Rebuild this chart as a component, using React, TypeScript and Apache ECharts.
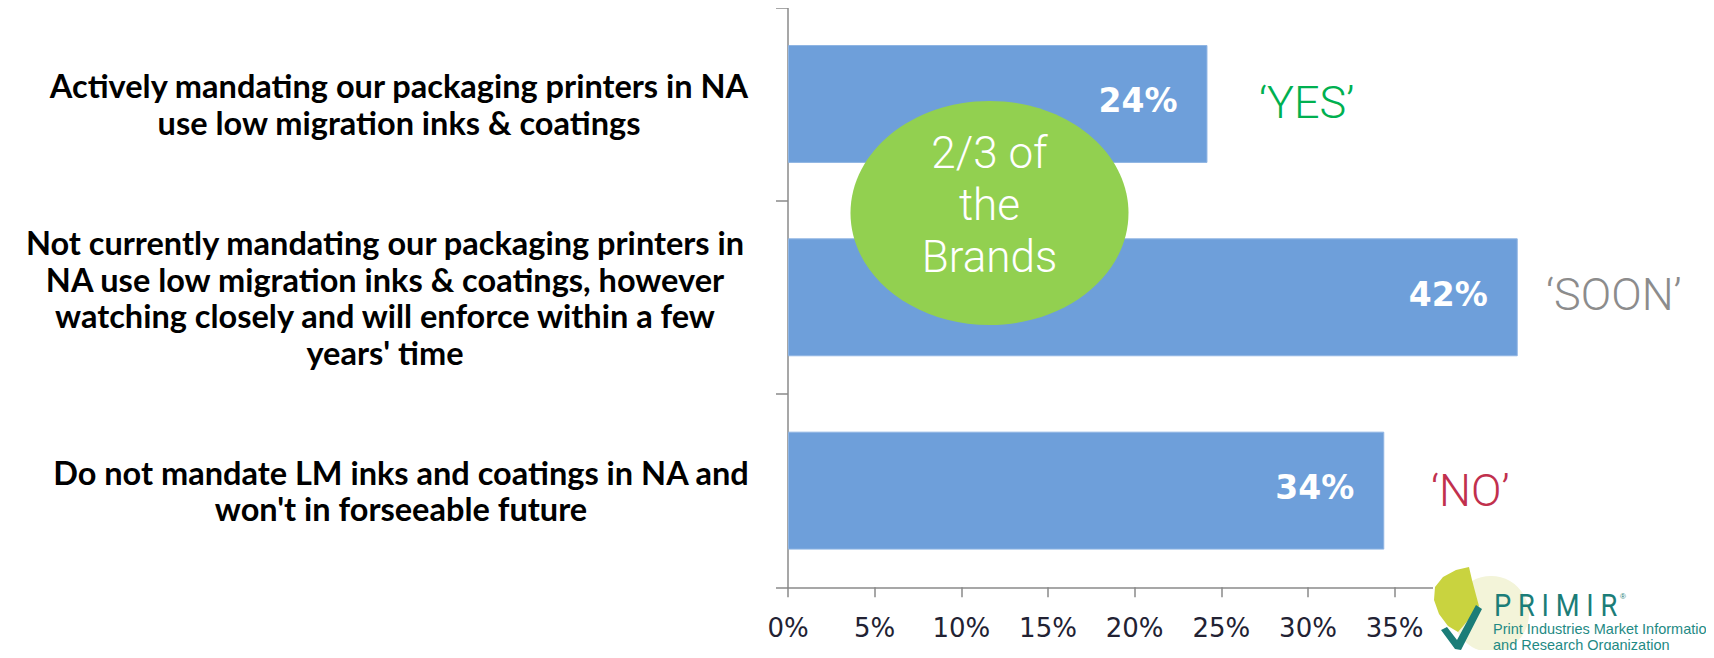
import React, { useEffect, useRef } from "react";
import * as echarts from "echarts";

const categories = [
  "Actively mandating our packaging printers in NA\nuse low migration inks & coatings",
  "Not currently mandating our packaging printers in\nNA use low migration inks & coatings, however\nwatching closely and will enforce within a few\nyears' time",
  "Do not mandate LM inks and coatings in NA and\nwon't in forseeable future",
];
const values = [24.2, 42.1, 34.4];
const xTicks = { min: 0, max: 45, interval: 5, lastVisibleLabel: 35 };
const annotations = ["\u2018YES\u2019", "\u2018SOON\u2019", "\u2018NO\u2019"];
const bubbleText = "2/3 of\nthe\nBrands";
const logoTitle = "P R I M I R";
const logoLines = ["Print Industries Market Information", "and Research Organization"];

const labelWidths = [714, 742, 710];

export default function App() {
  const ref = useRef<HTMLDivElement>(null);
  useEffect(() => {
    if (!ref.current) return;
    const chart = echarts.init(ref.current, null, { renderer: "svg" });
    const rich: any = {};
    labelWidths.forEach((w, i) => {
      rich["w" + i] = {
        width: w,
        align: "center",
        fontFamily: "Lato",
        fontWeight: 700,
        fontSize: 32.5,
        lineHeight: 36.5,
        color: "#000",
      };
    });
    const Z = 120;
    chart.setOption({
      animation: false,
      backgroundColor: "#fff",
      grid: { left: 788, right: 146, top: 7.3, bottom: 70.7, containLabel: false },
      xAxis: {
        type: "value",
        min: xTicks.min,
        max: xTicks.max,
        interval: xTicks.interval,
        splitLine: { show: false },
        axisLine: { show: true, lineStyle: { color: "#8a8a8a", width: 1.5 } },
        axisTick: { show: true, length: 10, lineStyle: { color: "#8a8a8a", width: 1.5 } },
        axisLabel: {
          formatter: (v: number) => (v <= xTicks.lastVisibleLabel ? `${v}%` : ""),
          fontFamily: "DejaVu Sans",
          fontSize: 26,
          lineHeight: 30,
          color: "#222233",
          margin: 26,
        },
      },
      yAxis: {
        type: "category",
        data: categories,
        inverse: true,
        axisLine: { show: true, lineStyle: { color: "#8a8a8a", width: 1.5 } },
        axisTick: { show: true, length: 12, lineStyle: { color: "#8a8a8a", width: 1.5 } },
        axisLabel: {
          margin: 32,
          align: "right",
          formatter: (v: string, i: number) =>
            v
              .split("\n")
              .map((l) => `{w${i}|${l}}`)
              .join("\n"),
          rich,
        },
      },
      series: [
        {
          type: "bar",
          data: values,
          barCategoryGap: "39%",
          itemStyle: { color: "#6e9fda", borderColor: "#8fb5e3", borderWidth: 1 },
          label: {
            show: true,
            position: "insideRight",
            distance: 30,
            offset: [0, -3],
            formatter: (p: any) => `${Math.round(p.value)}%`,
            color: "#fff",
            fontFamily: "DejaVu Sans",
            fontWeight: "bold",
            fontSize: 33,
          },
        },
      ],
      graphic: [
        {
          type: "ellipse",
          shape: { cx: 989.5, cy: 213, rx: 139, ry: 112 },
          style: { fill: "#92d050" },
          z: 100,
        },
        {
          type: "text",
          x: 989.5,
          y: 205,
          z: 101,
          style: {
            text: bubbleText,
            fill: "#fff",
            fontFamily: "Roboto",
            fontWeight: 300,
            fontSize: 44,
            lineHeight: 52,
            align: "center",
            verticalAlign: "middle",
          },
        },
        {
          type: "text",
          x: 1259,
          y: 102,
          z: 101,
          style: {
            text: annotations[0],
            fill: "#00b050",
            fontFamily: "Roboto",
            fontWeight: 300,
            fontSize: 45,
            align: "left",
            verticalAlign: "middle",
          },
        },
        {
          type: "text",
          x: 1546,
          y: 294,
          z: 101,
          style: {
            text: annotations[1],
            fill: "#8c8c8c",
            fontFamily: "Roboto",
            fontWeight: 300,
            fontSize: 45,
            align: "left",
            verticalAlign: "middle",
          },
        },
        {
          type: "text",
          x: 1431,
          y: 490,
          z: 101,
          style: {
            text: annotations[2],
            fill: "#c1304d",
            fontFamily: "Roboto",
            fontWeight: 300,
            fontSize: 45,
            align: "left",
            verticalAlign: "middle",
          },
        },
        { type: "rect", z: Z, shape: { x: 1433, y: 560, width: 281, height: 98 }, style: { fill: "#ffffff" } },
        { type: "circle", z: Z + 1, shape: { cx: 1491, cy: 614, r: 38 }, style: { fill: "#f3f4d9" } },
        {
          type: "polygon",
          z: Z + 2,
          shape: {
            points: [
              [1469, 567], [1472, 580], [1476, 595], [1479, 606], [1470, 618], [1458, 632],
              [1448, 626], [1439, 614], [1434, 600], [1435, 587], [1443, 577], [1456, 570],
            ],
          },
          style: { fill: "#c9d33f" },
        },
        {
          type: "polygon",
          z: Z + 3,
          shape: {
            points: [
              [1476, 605], [1482, 609], [1461, 650], [1455, 649], [1441, 630], [1447, 627], [1457, 640],
            ],
          },
          style: { fill: "#1b7d78" },
        },
        {
          type: "text",
          z: Z + 4,
          x: 1494,
          y: 605,
          scaleX: 0.88,
          style: {
            text: logoTitle,
            fill: "#1b7d78",
            fontFamily: "Roboto",
            fontSize: 31,
            align: "left",
            verticalAlign: "middle",
          },
        },
        {
          type: "text",
          z: Z + 4,
          x: 1620,
          y: 596,
          style: { text: "\u00ae", fill: "#1b7d78", fontFamily: "Liberation Sans", fontSize: 8, align: "left", verticalAlign: "middle" },
        },
        {
          type: "text",
          z: Z + 4,
          x: 1493,
          y: 629,
          style: {
            text: logoLines[0],
            fill: "#1f8a84",
            fontFamily: "Liberation Sans",
            fontSize: 14.5,
            align: "left",
            verticalAlign: "middle",
          },
        },
        {
          type: "text",
          z: Z + 4,
          x: 1493,
          y: 645,
          style: {
            text: logoLines[1],
            fill: "#1f8a84",
            fontFamily: "Liberation Sans",
            fontSize: 14.5,
            align: "left",
            verticalAlign: "middle",
          },
        },
      ],
    });
    return () => chart.dispose();
  }, []);
  return <div ref={ref} style={{ width: 1714, height: 658, margin: -8 }} />;
}
